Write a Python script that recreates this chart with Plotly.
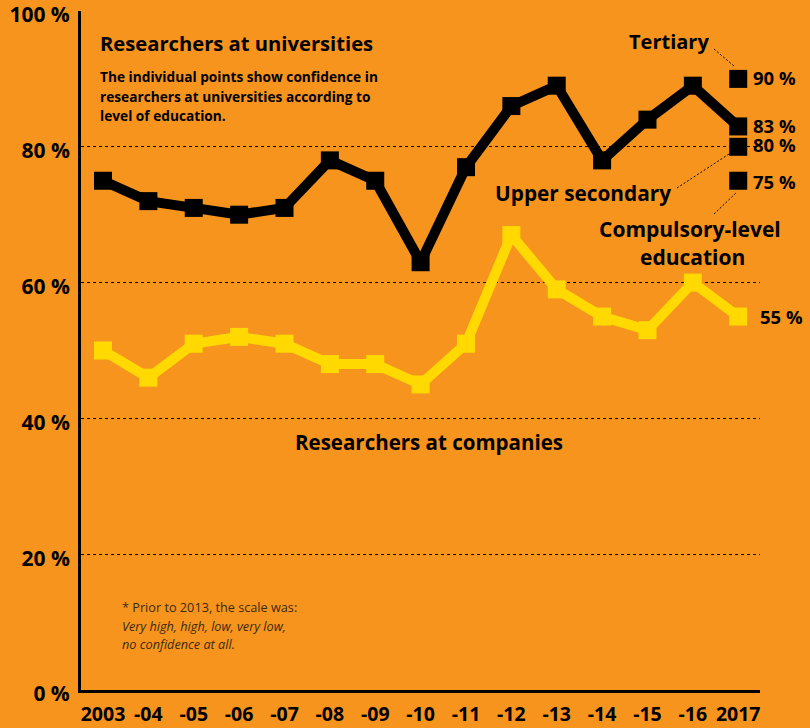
import plotly.graph_objects as go

years = ["2003", "-04", "-05", "-06", "-07", "-08", "-09", "-10", "-11", "-12", "-13", "-14", "-15", "-16", "2017"]
universities = [75, 72, 71, 70, 71, 78, 75, 63, 77, 86, 89, 78, 84, 89, 83]
companies = [50, 46, 51, 52, 51, 48, 48, 45, 51, 67, 59, 55, 53, 60, 55]
edu_levels = ["Tertiary", "Upper secondary", "Compulsory-level education"]
edu_values = [90, 80, 75]
y_ticks = [0, 20, 40, 60, 80, 100]

BG = "#F7941E"
YEL = "#FFD900"
FONT = "Open Sans"

W, H = 810, 728
L, R, T, B = 81, 50, 11, 38
PW, PH = W - L - R, H - T - B


def px(x):
    return (x - L) / PW


def py(y):
    return (H - B - y) / PH


fig = go.Figure()
fig.add_trace(go.Scatter(x=years, y=companies, mode="lines+markers",
                         line=dict(color=YEL, width=10),
                         marker=dict(symbol="square", size=18, color=YEL),
                         showlegend=False, cliponaxis=False))
fig.add_trace(go.Scatter(x=years, y=universities, mode="lines+markers",
                         line=dict(color="black", width=10),
                         marker=dict(symbol="square", size=18, color="black"),
                         showlegend=False, cliponaxis=False))
fig.add_trace(go.Scatter(x=[years[-1]] * len(edu_values), y=edu_values, mode="markers",
                         marker=dict(symbol="square", size=18, color="black"),
                         text=edu_levels, showlegend=False, cliponaxis=False))

fig.update_layout(
    width=W, height=H,
    margin=dict(l=L, r=R, t=T, b=B, autoexpand=False),
    paper_bgcolor=BG, plot_bgcolor=BG,
    font=dict(family=FONT, color="black"),
    xaxis=dict(type="category", categoryorder="array", categoryarray=years,
               range=[-0.485, 14.48], showgrid=False, zeroline=False, automargin=False,
               showline=True, linecolor="black", linewidth=3, ticks="",
               tickfont=dict(family=FONT, size=19.5, color="black", weight="bold"),
               ticklabelstandoff=5, ticklabeloverflow="allow"),
    yaxis=dict(range=[0, 100], tickvals=y_ticks, automargin=False,
               ticktext=[f"{v} %" for v in y_ticks],
               showgrid=True, gridcolor="black", gridwidth=1, griddash="3px,3px",
               zeroline=False, showline=True, linecolor="black", linewidth=3, ticks="",
               tickfont=dict(family=FONT, size=21, color="black", weight="bold"),
               ticklabelstandoff=4, ticklabelshift=4, ticklabeloverflow="allow"),
)


def ann(text, x, y, size, xanchor="left", weight="bold", style="normal", color="black"):
    fig.add_annotation(text=text, x=px(x), y=py(y), xref="paper", yref="paper",
                       xanchor=xanchor, yanchor="middle", showarrow=False,
                       font=dict(family=FONT, size=size, color=color, weight=weight, style=style))


ann("Researchers at universities", 98, 43, 20.2)
ann("The individual points show confidence in", 98, 77, 13.7)
ann("researchers at universities according to", 98, 96, 13.7)
ann("level of education.", 98, 115, 13.7)
ann("Tertiary", 669, 42, 20, xanchor="center")
ann("90 %", 751, 78, 18.5)
ann("83 %", 751, 126, 18.5)
ann("80 %", 751, 145, 18.5)
ann("75 %", 751, 181, 18.5)
ann("Upper secondary", 673, 193, 20.8, xanchor="right")
ann("Compulsory-level", 690, 229, 21, xanchor="center")
ann("education", 692, 257, 21, xanchor="center")
ann("55 %", 758, 316, 18.5)
ann("Researchers at companies", 429, 442, 20.5, xanchor="center")
ann("* Prior to 2013, the scale was:", 120, 607, 12.7, weight="normal", color="#3a2a12")
ann("Very high, high, low, very low,", 120, 626, 12.7, weight="normal", style="italic", color="#3a2a12")
ann("no confidence at all.", 120, 644, 12.7, weight="normal", style="italic", color="#3a2a12")

for (x0, y0, x1, y1) in [(714, 49, 734, 66), (677, 188, 729, 154), (714, 214, 737, 192)]:
    fig.add_shape(type="line", xref="paper", yref="paper",
                  x0=px(x0), y0=py(y0), x1=px(x1), y1=py(y1),
                  line=dict(color="black", width=1, dash="2px,2px"))

fig.write_html("out.html", config={"displayModeBar": False},
               post_script="document.body.style.margin='0';document.body.style.padding='0';document.body.style.background='" + BG + "';")
